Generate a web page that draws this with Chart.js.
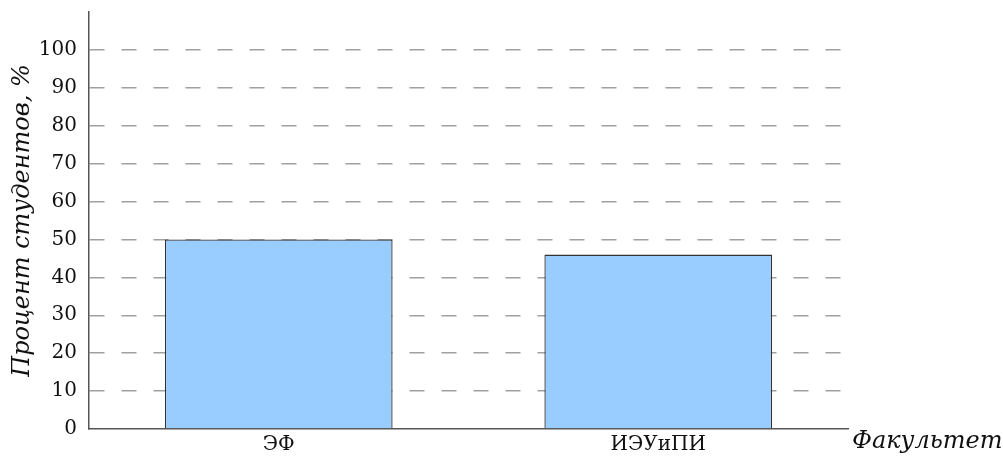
<!DOCTYPE html>
<html><head><meta charset="utf-8">
<script src="https://cdn.jsdelivr.net/npm/chart.js@4"></script>
<style>html,body{margin:0;padding:0;background:#fff}#wrap{width:1003px;height:459px}</style>
</head><body><div id="wrap"><canvas id="c" width="1003" height="459"></canvas></div>
<script>
const categories = ['ЭФ', 'ИЭУиПИ'];
const values = [50, 46];
const yTickValues = [0, 10, 20, 30, 40, 50, 60, 70, 80, 90, 100];
const yTitle = 'Процент студентов, %';
const xTitle = 'Факультет';

const FONT = 'DejaVu Serif';
const xTitlePlugin = {
  id: 'xTitle',
  afterDraw(chart) {
    const ctx = chart.ctx, xs = chart.scales.x;
    ctx.save();
    ctx.font = 'italic 24px "' + FONT + '"';
    ctx.fillStyle = '#111';
    ctx.textAlign = 'left';
    ctx.textBaseline = 'middle';
    ctx.fillText(xTitle, xs.right + 4, xs.top + 13);
    ctx.restore();
  }
};

new Chart(document.getElementById('c'), {
  type: 'bar',
  data: {
    labels: categories,
    datasets: [{
      data: values,
      backgroundColor: '#99ccff',
      borderColor: '#333333',
      borderWidth: 1.3,
      barPercentage: 0.6,
      categoryPercentage: 1.0
    }]
  },
  options: {
    responsive: false,
    animation: false,
    devicePixelRatio: 1,
    layout: { padding: { top: 12, right: 155, left: 0, bottom: 0 } },
    plugins: { legend: { display: false }, tooltip: { enabled: false } },
    scales: {
      x: {
        grid: { display: false, drawTicks: false },
        border: { display: true, color: '#555', width: 1.5 },
        ticks: { color: '#111', font: { family: FONT, size: 20 }, padding: 4 },
        afterFit(s) { s.height = 30; s.paddingLeft = 0; s.paddingRight = 0; }
      },
      y: {
        min: 0, max: 110,
        afterBuildTicks(s) { s.ticks = yTickValues.concat([110]).map(v => ({ value: v })); },
        grid: {
          drawTicks: false,
          color: c => (c.tick && (c.tick.value > 100 || c.tick.value === 0)) ? 'rgba(0,0,0,0)' : '#a0a0a0',
          lineWidth: 1.5
        },
        border: { display: true, color: '#555', width: 1.5, dash: [15, 17] },
        ticks: {
          color: '#111', font: { family: FONT, size: 20 }, padding: 12,
          callback: v => yTickValues.includes(v) ? String(v) : ''
        },
        title: { display: true, text: yTitle, color: '#111', font: { family: FONT, size: 24, style: 'italic' }, padding: { top: 8, bottom: 0 } },
        afterFit(s) { s.width = 89; s.paddingTop = 0; s.paddingBottom = 0; }
      }
    }
  },
  plugins: [xTitlePlugin]
});
</script></body></html>
